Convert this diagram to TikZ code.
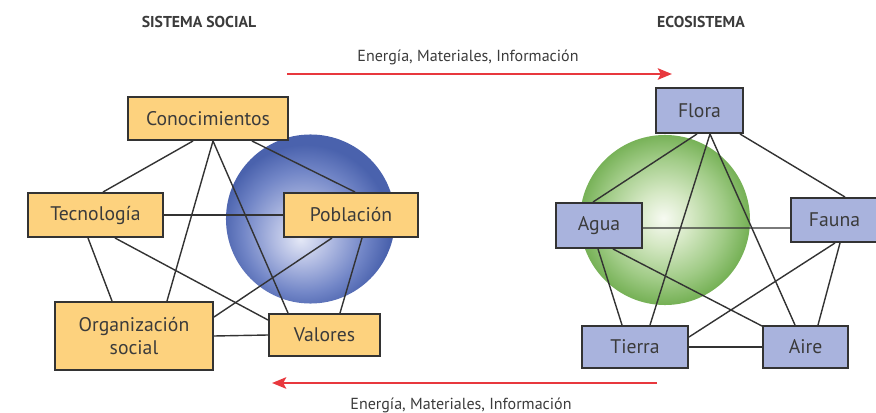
\documentclass[tikz,border=0pt]{standalone}
\usepackage{fontspec}
\setmainfont{PT Sans}
\usetikzlibrary{arrows.meta,calc}
\definecolor{socfill}{HTML}{FDD27E}
\definecolor{ecofill}{HTML}{A9B3DD}
\definecolor{boxline}{HTML}{333333}
\definecolor{txt}{HTML}{3B3B3B}
\definecolor{flow}{HTML}{E8383D}
\definecolor{bluehi}{HTML}{E4E8F6}
\definecolor{bluelt}{HTML}{B3BDE3}
\definecolor{bluemid}{HTML}{7286C7}
\definecolor{bluedk}{HTML}{4A62AD}
\definecolor{greenhi}{HTML}{F7FAF2}
\definecolor{greenlt}{HTML}{D5E8C4}
\definecolor{greenmid}{HTML}{A0CB86}
\definecolor{greendk}{HTML}{76B156}
\pgfdeclareradialshading{bluesphere}{\pgfpoint{-3bp}{-6bp}}{%
  color(0bp)=(bluehi); color(8bp)=(bluelt); color(18bp)=(bluemid); color(25bp)=(bluedk); color(50bp)=(bluedk)}
\pgfdeclareradialshading{greensphere}{\pgfpoint{-0.5bp}{0.5bp}}{%
  color(0bp)=(greenhi); color(8bp)=(greenlt); color(18bp)=(greenmid); color(25bp)=(greendk); color(50bp)=(greendk)}
\begin{document}
\begin{tikzpicture}[x=0.025cm, y=-0.025cm,
    B/.style={draw=boxline, line width=1.4pt, inner sep=0pt, text=txt, align=center, font=\fontsize{14}{17}\selectfont},
    S/.style={B, fill=socfill},
    E/.style={B, fill=ecofill},
    C/.style={draw=boxline, line width=1pt},
    F/.style={draw=flow, line width=1.9pt, -{Stealth[length=10pt, width=8pt, inset=2pt]}},
    T/.style={text=txt, font=\fontsize{11.2}{13}\selectfont\bfseries},
    I/.style={text=txt, font=\fontsize{11.4}{13}\selectfont}
  ]
  \useasboundingbox (0,0) rectangle (876,413);

  % spheres
  \shade[shading=bluesphere] (310.5,219) circle [radius=2.1125cm];
  \shade[shading=greensphere] (665,220) circle [radius=2.125cm];

  % titles
  \node[T] (tsoc) at (199,22) {SISTEMA SOCIAL};
  \node[T] (teco) at (701,22) {ECOSISTEMA};

  % social system
  \node[S, minimum width=4cm, minimum height=1.075cm] (con) at (208,118.5) {Conocimientos};
  \node[S, minimum width=3.375cm, minimum height=1.1cm] (tec) at (95.5,215) {Tecnología};
  \node[S, minimum width=3.35cm, minimum height=1.1cm] (pob) at (351,215) {Población};
  \node[S, minimum width=3.95cm, minimum height=1.7cm] (org) at (134,336) {Organización\\social};
  \node[S, minimum width=2.775cm, minimum height=1.05cm] (val) at (324.5,335) {Valores};

  \draw[C] ($(con.south)+(-15,0)$) -- ($(tec.north)+(7.5,0)$);
  \draw[C] ($(con.south)+(5,0)$) -- ($(org.north)+(33,0)$);
  \draw[C] ($(con.south)+(5,0)$) -- ($(val.north)+(-36.5,0)$);
  \draw[C] ($(con.south)+(44,0)$) -- ($(pob.north)+(4,0)$);
  \draw[C] (tec.east) -- (pob.west);
  \draw[C] ($(tec.south)+(-7.5,0)$) -- ($(org.north)+(-22,0)$);
  \draw[C] ($(tec.south)+(19.5,0)$) -- ($(val.west)+(0,-15)$);
  \draw[C] ($(pob.south)+(-19,0)$) -- ($(org.east)+(0,-19)$);
  \draw[C] ($(pob.south)+(11,0)$) -- ($(val.north)+(15.5,0)$);
  \draw[C] (org.east) -- (val.west);

  % ecosystem
  \node[E, minimum width=2.175cm, minimum height=1.125cm] (flora) at (699.5,110.5) {Flora};
  \node[E, minimum width=2.15cm, minimum height=1.125cm] (agua) at (599,225.5) {Agua};
  \node[E, minimum width=2.175cm, minimum height=1.1cm] (fauna) at (834.5,220) {Fauna};
  \node[E, minimum width=2.65cm, minimum height=1.05cm] (tierra) at (635,347) {Tierra};
  \node[E, minimum width=2.125cm, minimum height=1.05cm] (aire) at (805.5,347) {Aire};

  \draw[C] ($(flora.south)+(-2.5,0)$) -- ($(agua.north)+(-6,0)$);
  \draw[C] ($(flora.south)+(10.5,0)$) -- ($(tierra.north)+(15,0)$);
  \draw[C] ($(flora.south)+(10.5,0)$) -- ($(aire.north)+(-10.5,0)$);
  \draw[C] ($(flora.south)+(40.5,0)$) -- ($(fauna.north)+(10.5,0)$);
  \draw[C] ($(agua.east)+(0,2.5)$) -- ($(fauna.west)+(0,8)$);
  \draw[C] ($(agua.south)+(-1,0)$) -- ($(tierra.north)+(-13,0)$);
  \draw[C] ($(agua.south)+(14,0)$) -- ($(aire.north west)+(0,1)$);
  \draw[C] ($(fauna.south)+(0.5,0)$) -- ($(tierra.east)+(0,-10)$);
  \draw[C] ($(fauna.south)+(5.5,0)$) -- ($(aire.north)+(12.5,0)$);
  \draw[C] (tierra.east) -- (aire.west);

  % flows
  \coordinate (f1a) at (287,74);
  \coordinate (f1b) at (672,74);
  \coordinate (f2a) at (657,383);
  \coordinate (f2b) at (272,383);
  \draw[F] (f1a) -- (f1b);
  \draw[F] (f2a) -- (f2b);
  \node[I] (l1) at (468,57) {Energía, Materiales, Información};
  \node[I] (l2) at (461,405) {Energía, Materiales, Información};
\end{tikzpicture}
\end{document}
